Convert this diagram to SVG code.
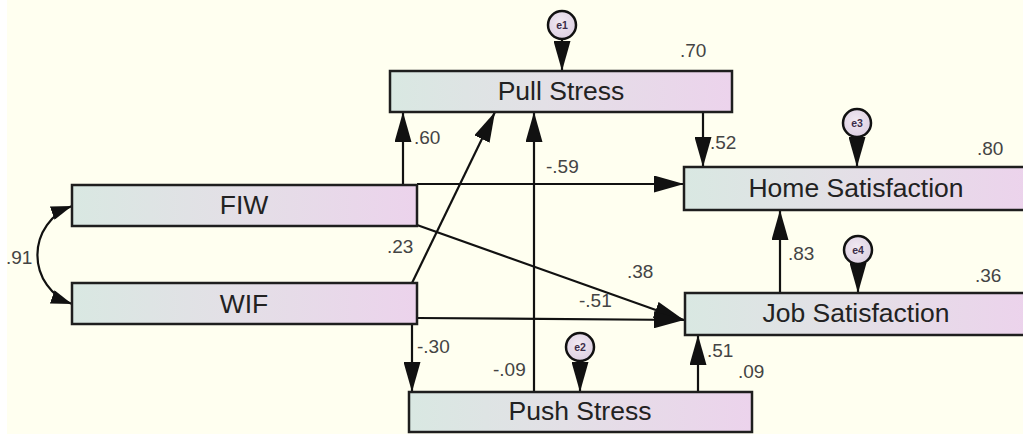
<svg xmlns="http://www.w3.org/2000/svg" width="1023" height="434" viewBox="0 0 1023 434">
  <defs>
    <linearGradient id="boxFill" x1="0" y1="0" x2="1" y2="0">
      <stop offset="0" stop-color="#d9e8e2"/>
      <stop offset="0.45" stop-color="#e3e0e6"/>
      <stop offset="1" stop-color="#ecd3ec"/>
    </linearGradient>
    <radialGradient id="errFill" cx="0.45" cy="0.4" r="0.6">
      <stop offset="0" stop-color="#f1e9f2"/>
      <stop offset="1" stop-color="#ddd0e2"/>
    </radialGradient>
    <marker id="head" markerUnits="userSpaceOnUse" markerWidth="30" markerHeight="17" refX="30" refY="8.5" orient="auto">
      <path d="M0,0 L30,8.5 L0,17 Z" fill="#111"/>
    </marker>
    <marker id="headSmall" markerUnits="userSpaceOnUse" markerWidth="21" markerHeight="14" refX="21" refY="7" orient="auto-start-reverse">
      <path d="M0,0 L21,7 L0,14 Z" fill="#111"/>
    </marker>
    <style>
      .box { fill: url(#boxFill); stroke: #1e1e1e; stroke-width: 2.5; }
      .name { font-family: "Liberation Sans", Arial, sans-serif; font-size: 26.5px; fill: #222; text-anchor: middle; }
      .coef { font-family: "Liberation Sans", Arial, sans-serif; font-size: 19px; fill: #444; }
      .path { fill: none; stroke: #111; stroke-width: 2.2; marker-end: url(#head); }
      .err { fill: url(#errFill); stroke: #111; stroke-width: 2.5; }
      .errName { font-family: "Liberation Sans", Arial, sans-serif; font-size: 10.5px; font-weight: bold; fill: #3b2c48; text-anchor: middle; }
    </style>
  </defs>

  <rect x="0" y="0" width="1023" height="434" fill="#fffff0"/>
  <rect x="0" y="0" width="7" height="434" fill="#ffffff"/>

  <!-- paths and covariance -->
  <g id="connectors">
    <line class="path" x1="403" y1="185" x2="403" y2="112"/>
    <line class="path" x1="412" y1="283" x2="495" y2="112"/>
    <line class="path" x1="534" y1="392" x2="534" y2="112"/>
    <line class="path" x1="703" y1="112" x2="703" y2="167"/>
    <line class="path" x1="417" y1="184" x2="684" y2="184"/>
    <line class="path" x1="417" y1="225" x2="684" y2="320"/>
    <line class="path" x1="417" y1="318" x2="684" y2="320"/>
    <line class="path" x1="412" y1="324" x2="412" y2="392"/>
    <line class="path" x1="698" y1="392" x2="698" y2="335"/>
    <line class="path" x1="780" y1="293" x2="780" y2="210"/>
    <path d="M72,206 A52,52 0 0 0 72,304" fill="none" stroke="#111" stroke-width="2.2" marker-start="url(#headSmall)" marker-end="url(#headSmall)"/>
    <!-- error terms -->
    <line class="path" x1="562" y1="39" x2="562" y2="71"/>
    <line class="path" x1="857" y1="137" x2="857" y2="167"/>
    <line class="path" x1="858" y1="264" x2="858" y2="293"/>
    <line class="path" x1="580" y1="361" x2="580" y2="392"/>
  </g>

  <g id="node-pull-stress">
    <rect class="box" x="390" y="71" width="342" height="41"/>
    <text class="name" x="561" y="100">Pull Stress</text>
  </g>
  <g id="node-home-satisfaction">
    <rect class="box" x="684" y="167" width="344" height="43"/>
    <text class="name" x="856" y="197">Home Satisfaction</text>
  </g>
  <g id="node-fiw">
    <rect class="box" x="72" y="185" width="345" height="41"/>
    <text class="name" x="244" y="214">FIW</text>
  </g>
  <g id="node-wif">
    <rect class="box" x="72" y="283" width="345" height="41"/>
    <text class="name" x="244" y="313">WIF</text>
  </g>
  <g id="node-job-satisfaction">
    <rect class="box" x="685" y="293" width="343" height="42"/>
    <text class="name" x="856" y="322">Job Satisfaction</text>
  </g>
  <g id="node-push-stress">
    <rect class="box" x="409" y="392" width="343" height="40"/>
    <text class="name" x="580" y="420">Push Stress</text>
  </g>

  <g id="node-e1">
    <circle class="err" cx="562" cy="25" r="14"/>
    <text class="errName" x="562" y="29">e1</text>
  </g>
  <g id="node-e2">
    <circle class="err" cx="580" cy="347" r="14"/>
    <text class="errName" x="580" y="351">e2</text>
  </g>
  <g id="node-e3">
    <circle class="err" cx="857" cy="123" r="14"/>
    <text class="errName" x="857" y="127">e3</text>
  </g>
  <g id="node-e4">
    <circle class="err" cx="858" cy="250" r="14"/>
    <text class="errName" x="858" y="254">e4</text>
  </g>

  <g id="coefficients">
    <text class="coef" x="680" y="57">.70</text>
    <text class="coef" x="977" y="155">.80</text>
    <text class="coef" x="975" y="282">.36</text>
    <text class="coef" x="710" y="149">.52</text>
    <text class="coef" x="414" y="144">.60</text>
    <text class="coef" x="546" y="173">-.59</text>
    <text class="coef" x="387" y="253">.23</text>
    <text class="coef" x="627" y="278">.38</text>
    <text class="coef" x="579" y="307">-.51</text>
    <text class="coef" x="788" y="260">.83</text>
    <text class="coef" x="417" y="353">-.30</text>
    <text class="coef" x="493" y="376">-.09</text>
    <text class="coef" x="707" y="357">.51</text>
    <text class="coef" x="738" y="378">.09</text>
    <text class="coef" x="6" y="264">.91</text>
  </g>
</svg>
